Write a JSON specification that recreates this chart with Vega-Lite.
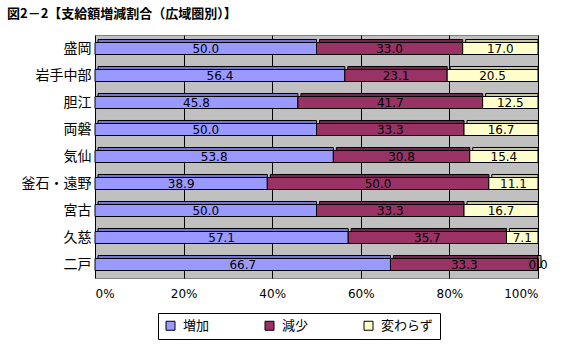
{
  "$schema": "https://vega.github.io/schema/vega-lite/v6.json",
  "width": 443,
  "height": 243,
  "autosize": "none",
  "padding": {"left": 95, "top": 35, "right": 38, "bottom": 80},
  "background": "white",
  "config": {
    "view": {"fill": "#C0C0C0", "stroke": "#808080"},
    "font": "Noto Sans CJK JP"
  },
  "title": {
    "text": "図2－2【支給額増減割合（広域圏別）】",
    "anchor": "start",
    "frame": "group",
    "dx": -88,
    "offset": 14,
    "fontSize": 13,
    "fontWeight": "bold",
    "color": "black",
    "font": "Noto Sans CJK JP"
  },
  "data": {
    "values": [
      {"region": "盛岡", "cat": "増加", "ord": 1, "value": 50.0},
      {"region": "盛岡", "cat": "減少", "ord": 2, "value": 33.0},
      {"region": "盛岡", "cat": "変わらず", "ord": 3, "value": 17.0},
      {"region": "岩手中部", "cat": "増加", "ord": 1, "value": 56.4},
      {"region": "岩手中部", "cat": "減少", "ord": 2, "value": 23.1},
      {"region": "岩手中部", "cat": "変わらず", "ord": 3, "value": 20.5},
      {"region": "胆江", "cat": "増加", "ord": 1, "value": 45.8},
      {"region": "胆江", "cat": "減少", "ord": 2, "value": 41.7},
      {"region": "胆江", "cat": "変わらず", "ord": 3, "value": 12.5},
      {"region": "両磐", "cat": "増加", "ord": 1, "value": 50.0},
      {"region": "両磐", "cat": "減少", "ord": 2, "value": 33.3},
      {"region": "両磐", "cat": "変わらず", "ord": 3, "value": 16.7},
      {"region": "気仙", "cat": "増加", "ord": 1, "value": 53.8},
      {"region": "気仙", "cat": "減少", "ord": 2, "value": 30.8},
      {"region": "気仙", "cat": "変わらず", "ord": 3, "value": 15.4},
      {"region": "釜石・遠野", "cat": "増加", "ord": 1, "value": 38.9},
      {"region": "釜石・遠野", "cat": "減少", "ord": 2, "value": 50.0},
      {"region": "釜石・遠野", "cat": "変わらず", "ord": 3, "value": 11.1},
      {"region": "宮古", "cat": "増加", "ord": 1, "value": 50.0},
      {"region": "宮古", "cat": "減少", "ord": 2, "value": 33.3},
      {"region": "宮古", "cat": "変わらず", "ord": 3, "value": 16.7},
      {"region": "久慈", "cat": "増加", "ord": 1, "value": 57.1},
      {"region": "久慈", "cat": "減少", "ord": 2, "value": 35.7},
      {"region": "久慈", "cat": "変わらず", "ord": 3, "value": 7.1},
      {"region": "二戸", "cat": "増加", "ord": 1, "value": 66.7},
      {"region": "二戸", "cat": "減少", "ord": 2, "value": 33.3},
      {"region": "二戸", "cat": "変わらず", "ord": 3, "value": 0.0}
    ]
  },
  "transform": [
    {"stack": "value", "groupby": ["region"], "sort": [{"field": "ord"}], "offset": "normalize", "as": ["v0", "v1"]}
  ],
  "encoding": {
    "y": {
      "field": "region",
      "type": "nominal",
      "sort": ["盛岡", "岩手中部", "胆江", "両磐", "気仙", "釜石・遠野", "宮古", "久慈", "二戸"],
      "scale": {"paddingInner": 0.555, "paddingOuter": 0.2775},
      "axis": {
        "title": null,
        "labelFontSize": 14,
        "labelColor": "black",
        "labelPadding": 4,
        "ticks": false,
        "domain": false,
        "labelFont": "Noto Sans CJK JP"
      }
    }
  },
  "layer": [
    {
      "mark": {"type": "bar", "xOffset": 3, "yOffset": -3, "stroke": "black", "strokeWidth": 1},
      "encoding": {
        "x": {
          "field": "v0",
          "type": "quantitative",
          "scale": {"domain": [0, 1]},
          "axis": {
            "title": null,
            "format": ".0%",
            "values": [0, 0.2, 0.4, 0.6, 0.8, 1],
            "labelFontSize": 12,
            "labelColor": "black",
            "labelPadding": 10,
            "labelFont": "DejaVu Sans",
            "ticks": false,
            "domain": false,
            "grid": true,
            "gridColor": "black",
            "gridOpacity": 1,
            "gridWidth": 1
          }
        },
        "x2": {"field": "v1"},
        "color": {
          "field": "cat",
          "type": "nominal",
          "scale": {"domain": ["増加", "減少", "変わらず"], "range": ["#7676D8", "#732650", "#C8C89C"]},
          "legend": null
        }
      }
    },
    {
      "mark": {"type": "bar", "stroke": "black", "strokeWidth": 1},
      "encoding": {
        "x": {"field": "v0", "type": "quantitative"},
        "x2": {"field": "v1"},
        "color": {
          "field": "cat",
          "type": "nominal",
          "scale": {"domain": ["増加", "減少", "変わらず"], "range": ["#9999FF", "#993366", "#FFFFCC"]},
          "legend": {
            "title": null,
            "orient": "none",
            "legendX": 63,
            "legendY": 278,
            "direction": "horizontal",
            "columns": 3,
            "columnPadding": 53,
            "symbolType": "square",
            "symbolSize": 81,
            "symbolStrokeColor": "black",
            "symbolStrokeWidth": 1,
            "labelFontSize": 13,
            "labelColor": "black",
            "labelOffset": 6,
            "labelFont": "Noto Sans CJK JP",
            "strokeColor": "black",
            "fillColor": "white",
            "padding": 6
          }
        }
      }
    },
    {
      "transform": [
        {"fold": ["v0", "v1"], "as": ["edge", "pos"]}
      ],
      "mark": {"type": "text", "fontSize": 12, "color": "black", "font": "DejaVu Sans"},
      "encoding": {
        "x": {"field": "pos", "type": "quantitative", "aggregate": "mean"},
        "detail": {"field": "cat", "type": "nominal"},
        "text": {"field": "value", "type": "quantitative", "aggregate": "max", "format": ".1f"}
      }
    }
  ],
  "resolve": {"scale": {"color": "independent"}}
}
